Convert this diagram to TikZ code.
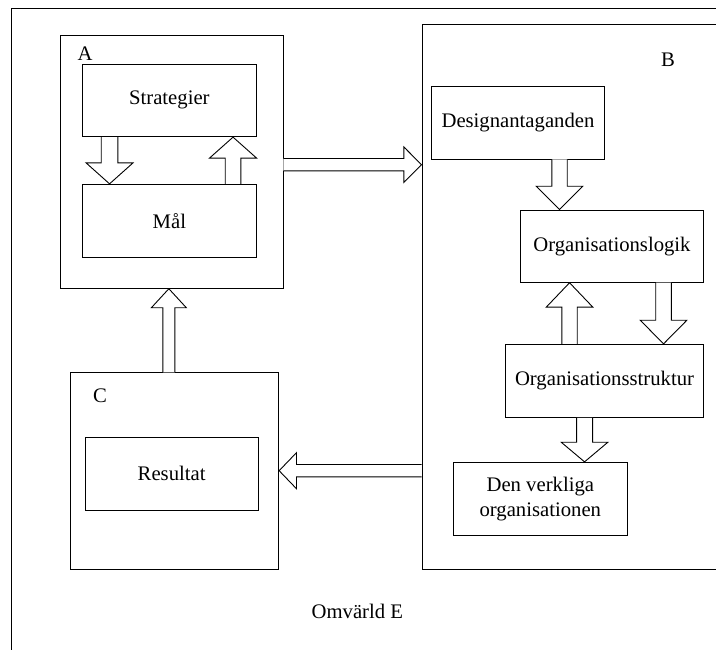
\documentclass[tikz,border=0pt]{standalone}
\usepackage{fontspec}
\setmainfont{Liberation Serif}
\usetikzlibrary{calc}

% hollow block arrow: #1 start, #2 tip, #3 half shaft width, #4 half head width, #5 head length
\newcommand\blockarrow[5]{%
  \coordinate (ba-s) at (#1);
  \coordinate (ba-t) at (#2);
  \coordinate (ba-c) at ($(ba-t)!#5!(ba-s)$);
  \draw[arrowbody]
    ($(ba-s)!#3!90:(ba-t)$) -- ($(ba-c)!#3!90:(ba-t)$) -- ($(ba-c)!#4!90:(ba-t)$)
    -- (ba-t)
    -- ($(ba-c)!#4!-90:(ba-t)$) -- ($(ba-c)!#3!-90:(ba-t)$) -- ($(ba-s)!#3!-90:(ba-t)$);
}

\begin{document}
\begin{tikzpicture}[x=1pt,y=-1pt,
  line width=0.9pt,
  every node/.style={font=\fontsize{20.7}{24.5}\selectfont, inner sep=0pt},
  box/.style={draw, rectangle, align=center},
  region/.style={draw, rectangle},
  letter/.style={anchor=center},
  arrowbody/.style={draw, fill=white, line join=miter}]

\useasboundingbox (0,0) rectangle (716,650);
\clip (0,0) rectangle (716,650);

% surrounding environment E (runs off the page on the right and bottom)
\node[region, minimum width=740pt, minimum height=680pt, anchor=north west] (E) at (11,7.7) {};

% region A
\node[region, minimum width=222.3pt, minimum height=252.6pt] (A) at (171.85,162) {};
\node[letter] (la) at (85,54) {A};
\node[box, minimum width=173.3pt, minimum height=72.7pt] (strat) at (169.35,100.35) {Strategier};
\node[box, minimum width=173.3pt, minimum height=73.4pt] (mal) at (169.35,221) {Mål};

% region B (runs off the page on the right)
\node[region, minimum width=330pt, minimum height=545pt, anchor=north west] (B) at (421.5,24.3) {};
\node[letter] (lb) at (668,60) {B};
\node[box, minimum width=172.6pt, minimum height=72.3pt] (design) at (518,122.85) {Designantaganden};
\node[box, minimum width=182.6pt, minimum height=72.3pt] (logik) at (612,246.15) {Organisationslogik};
\node[box, minimum width=197.6pt, minimum height=73pt] (struktur) at (604.5,380.8) {Organisationsstruktur};
\node[box, minimum width=174pt, minimum height=73.4pt] (verklig) at (540.3,499) {Den verkliga\\organisationen};

% region C
\node[region, minimum width=208.4pt, minimum height=196.6pt] (C) at (174.5,471) {};
\node[letter] (lc) at (100,396) {C};
\node[box, minimum width=173.3pt, minimum height=72.7pt] (res) at (171.65,473.65) {Resultat};

\node (omv) at (357.3,611.7) {Omvärld E};

% arrows inside A
\blockarrow{$(strat.south west)+(27.3,0)$}{$(mal.north west)+(27.3,0)$}{8.3pt}{23.5pt}{21pt}
\blockarrow{$(mal.north west)+(150.8,0)$}{$(strat.south west)+(150.8,0)$}{7.8pt}{23.6pt}{21pt}

% A to B
\coordinate (ab1) at ($(A.east)+(0,2.7)$);
\coordinate (ab2) at (ab1 -| B.west);
\blockarrow{ab1}{ab2}{6.2pt}{17.8pt}{17.7pt}

% arrows inside B
\blockarrow{$(design.south west)+(128.3,0)$}{$(logik.north west)+(39.3,0)$}{7.7pt}{23.3pt}{23.3pt}
\blockarrow{$(struktur.north west)+(64.3,0)$}{$(logik.south west)+(49.3,0)$}{7.7pt}{23.3pt}{24.4pt}
\blockarrow{$(logik.south west)+(143.3,0)$}{$(struktur.north west)+(158.3,0)$}{7.8pt}{23.3pt}{23.6pt}
\blockarrow{$(struktur.south west)+(79.3,0)$}{$(verklig.north west)+(131.7,0)$}{8pt}{23.3pt}{19.6pt}

% C to A
\blockarrow{$(C.north west)+(99,0)$}{$(A.south west)+(108.6,0)$}{6pt}{17.5pt}{19pt}

% B to C
\coordinate (bc1) at ($(C.east)+(0,-0.3)$);
\coordinate (bc0) at (bc1 -| B.west);
\blockarrow{bc0}{bc1}{6.2pt}{18pt}{17.3pt}

\end{tikzpicture}
\end{document}
